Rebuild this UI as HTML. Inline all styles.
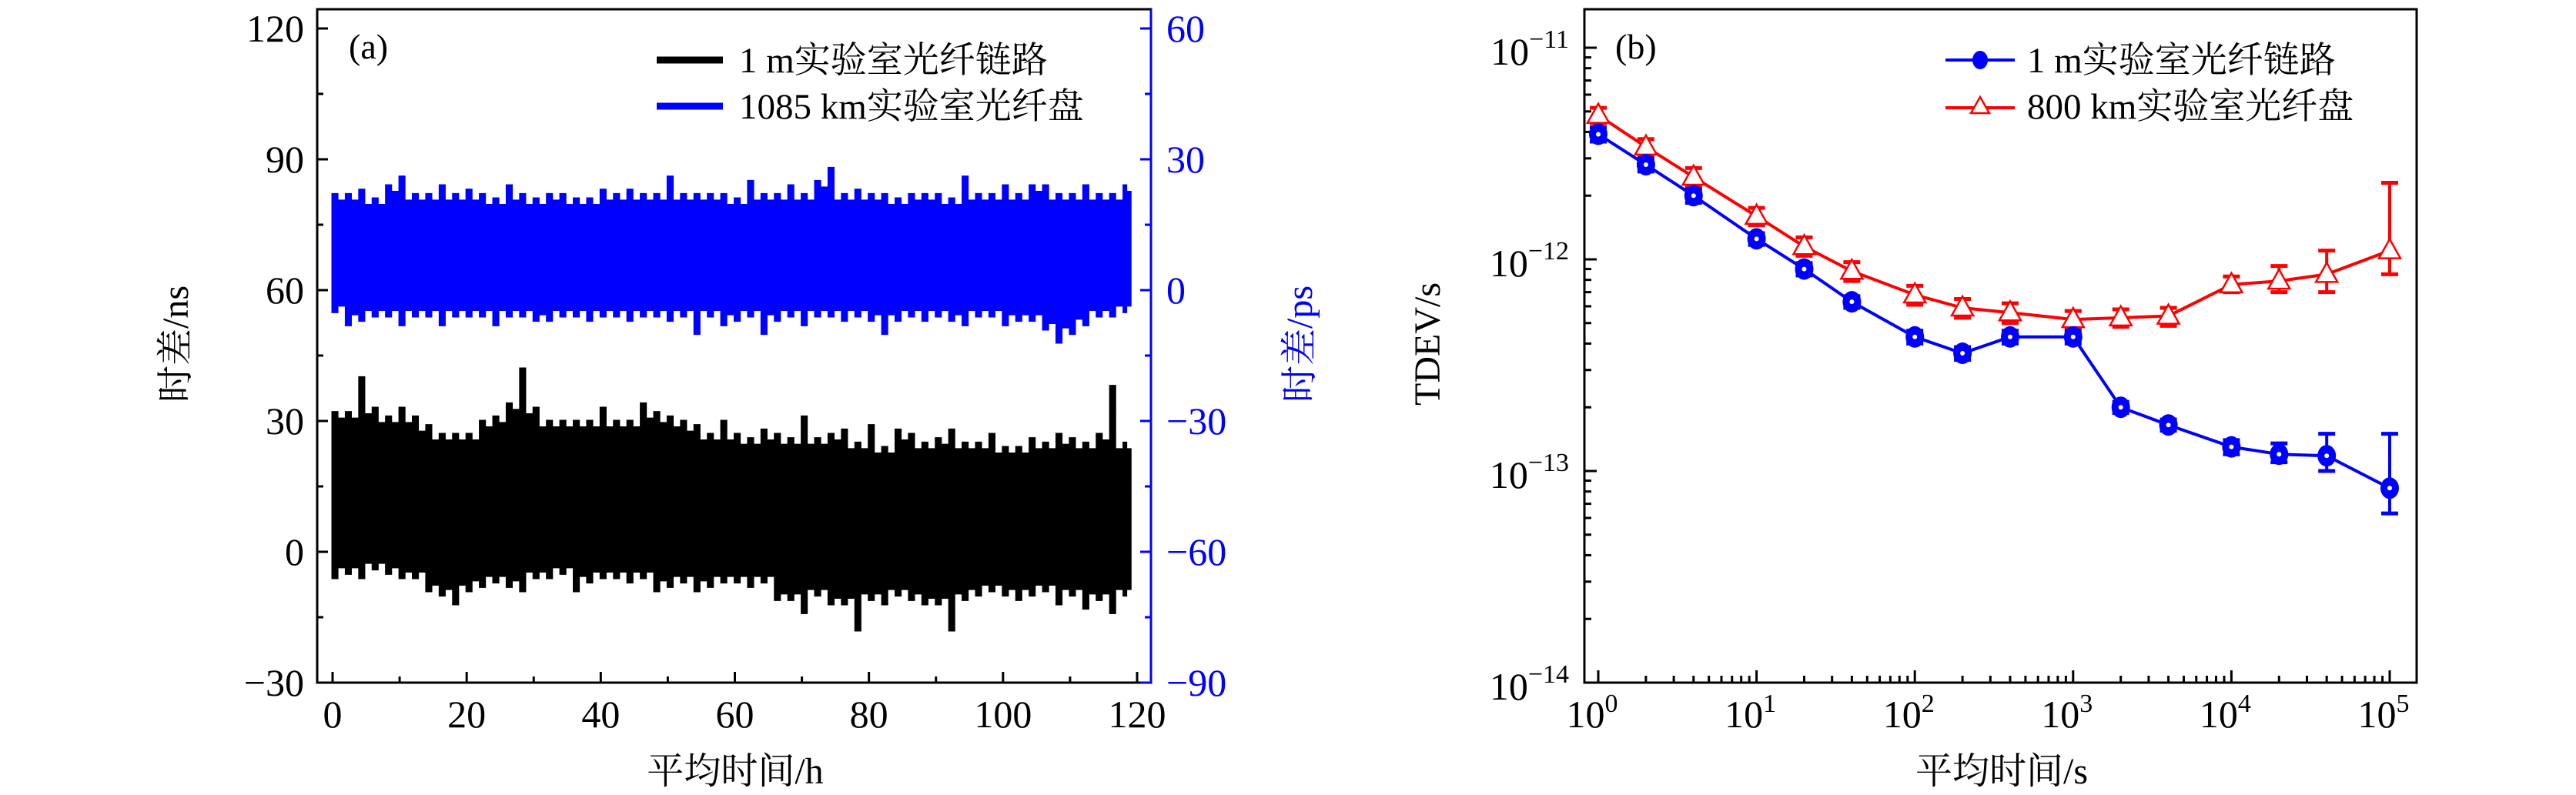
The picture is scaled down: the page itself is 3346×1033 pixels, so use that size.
<!DOCTYPE html>
<html><head><meta charset="utf-8"><style>
html,body{margin:0;padding:0;background:#fff;}
svg{display:block;font-family:"Liberation Serif","Noto Serif CJK SC",serif;}
</style></head><body>
<svg id="chart" width="3346" height="1033" viewBox="0 0 3346 1033" xmlns="http://www.w3.org/2000/svg"></svg>
<script>
// ---- Panel (a) data: envelope of time-difference traces, sampled every 2 h ----
const aHours = [0,2,4,6,8,10,12,14,16,18,20,22,24,26,28,30,32,34,36,38,40,42,44,46,48,50,52,54,56,58,60,62,64,66,68,70,72,74,76,78,80,82,84,86,88,90,92,94,96,98,100,102,104,106,108,110,112,114,116,118];
const blackUpperNs = [32,32,40,33,31,33,31,29,27,27,27,30,31,34,42,33,30,30,30,30,33,30,30,34,32,31,30,29,27,30,27,26,28,27,26,31,26,27,28,25,29,24,28,27,25,26,28,25,25,27,24,24,26,25,27,26,25,27,38,25];
const blackLowerNs = [-6,-5,-6,-4,-5,-6,-6,-9,-10,-12,-9,-8,-7,-8,-9,-6,-6,-5,-9,-7,-6,-6,-7,-6,-9,-8,-7,-9,-8,-7,-7,-8,-7,-11,-11,-14,-10,-12,-12,-18,-11,-12,-10,-11,-12,-12,-18,-11,-10,-9,-10,-11,-10,-9,-12,-10,-13,-11,-14,-10];
const blueUpperPs = [22,22,23,21,24,26,22,22,24,22,23,22,21,24,22,21,22,22,21,21,23,22,23,22,22,26,22,22,22,22,21,25,22,22,24,22,25,28,22,23,22,22,21,22,22,22,21,26,22,22,24,22,24,24,22,22,24,22,22,24];
const blueLowerPs = [-5,-8,-7,-6,-6,-8,-6,-6,-8,-6,-6,-6,-8,-6,-6,-7,-7,-6,-6,-7,-6,-6,-7,-6,-6,-7,-6,-10,-6,-8,-7,-6,-10,-7,-6,-8,-6,-6,-7,-6,-7,-10,-7,-6,-7,-6,-7,-8,-6,-6,-8,-7,-7,-9,-12,-10,-8,-6,-6,-5];
const aXTicks = [0,20,40,60,80,100,120];
const aYTicksLeft = [-30,0,30,60,90,120];
const aYTicksRight = [-90,-60,-30,0,30,60];

// ---- Panel (b) data: TDEV ----
const tau = [1,2,4,10,20,40,100,200,400,1000,2000,4000,1e4,2e4,4e4,1e5];
const tdevBlue = [3.9e-12,2.8e-12,2.0e-12,1.25e-12,9.0e-13,6.3e-13,4.3e-13,3.6e-13,4.3e-13,4.3e-13,2.0e-13,1.65e-13,1.3e-13,1.2e-13,1.18e-13,8.3e-14];
const blueErrLo = [3.6e-12,2.6e-12,1.85e-12,1.17e-12,8.4e-13,5.9e-13,4.0e-13,3.35e-13,4.0e-13,4.0e-13,1.88e-13,1.55e-13,1.2e-13,1.1e-13,1.0e-13,6.3e-14];
const blueErrHi = [4.2e-12,3.0e-12,2.15e-12,1.33e-12,9.6e-13,6.7e-13,4.6e-13,3.85e-13,4.6e-13,4.6e-13,2.12e-13,1.75e-13,1.4e-13,1.35e-13,1.5e-13,1.5e-13];
const tdevRed = [4.8e-12,3.4e-12,2.45e-12,1.6e-12,1.15e-12,8.8e-13,6.8e-13,5.9e-13,5.6e-13,5.2e-13,5.3e-13,5.4e-13,7.6e-13,7.9e-13,8.5e-13,1.1e-12];
const redErrLo = [4.4e-12,3.1e-12,2.2e-12,1.45e-12,1.04e-12,7.9e-13,6.1e-13,5.3e-13,5.0e-13,4.7e-13,4.8e-13,4.85e-13,7.0e-13,7.0e-13,7.0e-13,8.5e-13];
const redErrHi = [5.2e-12,3.7e-12,2.7e-12,1.75e-12,1.27e-12,9.7e-13,7.5e-13,6.5e-13,6.2e-13,5.7e-13,5.8e-13,5.9e-13,8.3e-13,9.3e-13,1.1e-12,2.3e-12];
const bXExps = [0,1,2,3,4,5];
const bYExps = [-14,-13,-12,-11];

const NS='http://www.w3.org/2000/svg';
const svg=document.getElementById('chart');
function mk(tag,attrs,parent){const e=document.createElementNS(NS,tag);for(const k in attrs)e.setAttribute(k,attrs[k]);(parent||svg).appendChild(e);return e;}

// ===== Panel a =====
const A={l:412,r:1495,t:12,b:887};
const ax=h=>432+(h-0)*(1477-432)/120;
const ayL=v=>717-v*170/30;
const ayR=v=>377-v*170/30;
const ga=mk('g',{});


function band(upper,lower,yf,color,name){
  let top=[],bot=[];
  const n=aHours.length;
  for(let i=0;i<n;i++){
    const h0=aHours[i], h1=(i+1<n?aHours[i+1]:119);
    const hm=h0+(h1-h0)*0.35;
    const nu=(i+1<n?upper[i+1]:upper[i]), nl=(i+1<n?lower[i+1]:lower[i]);
    const bu=Math.min(upper[i],nu)-1.5, bl=Math.max(lower[i],nl)+1.5;
    top.push(ax(h0)+','+yf(upper[i]),ax(hm)+','+yf(upper[i]),ax(hm)+','+yf(bu),ax(h1)+','+yf(bu));
    bot.push(ax(h0)+','+yf(lower[i]),ax(hm)+','+yf(lower[i]),ax(hm)+','+yf(bl),ax(h1)+','+yf(bl));
  }
  const pts=top.concat(bot.reverse());
  const p=mk('polygon',{points:pts.join(' '),fill:color,stroke:color,'stroke-width':3,'stroke-linejoin':'miter'},ga);
  
  
}
band(blueUpperPs,blueLowerPs,ayR,'#0000ff','series-1085km-spool');
band(blackUpperNs,blackLowerNs,ayL,'#000000','series-1m-link');
mk('rect',{x:A.l,y:A.t,width:A.r-A.l,height:A.b-A.t,fill:'none',stroke:'#000','stroke-width':3},ga);
mk('line',{x1:A.r,y1:A.t,x2:A.r,y2:A.b,stroke:'#0000ff','stroke-width':3},ga);
for(let h=0;h<=120;h+=10){const x=ax(h);mk('line',{x1:x,y1:A.b,x2:x,y2:A.b-(h%20===0?14:8),stroke:'#000','stroke-width':3},ga);}
aXTicks.forEach(v=>{const t=mk('text',{x:ax(v),y:945,'font-size':50,'text-anchor':'middle'},ga);t.textContent=v;});
for(let v=-30;v<=120;v+=15){const y=ayL(v);mk('line',{x1:A.l,y1:y,x2:A.l+(v%30===0?14:8),y2:y,stroke:'#000','stroke-width':3},ga);}
aYTicksLeft.forEach(v=>{const t=mk('text',{x:395,y:ayL(v)+17,'font-size':50,'text-anchor':'end'},ga);t.textContent=(v<0?'\u2212':'')+Math.abs(v);});
for(let v=-90;v<=60;v+=15){const y=ayR(v);mk('line',{x1:A.r,y1:y,x2:A.r-(v%30===0?14:8),y2:y,stroke:'#0000ff','stroke-width':3},ga);}
aYTicksRight.forEach(v=>{const t=mk('text',{x:1515,y:ayR(v)+17,'font-size':50,'fill':'#0000ff'},ga);t.textContent=(v<0?'\u2212':'')+Math.abs(v);});
let t=mk('text',{x:955,y:1018,'font-size':48,'text-anchor':'middle'},ga);t.textContent='平均时间/h';

t=mk('text',{x:0,y:0,'font-size':48,'text-anchor':'middle',transform:'translate(244,447) rotate(-90)'},ga);t.textContent='时差/ns';

t=mk('text',{x:0,y:0,'font-size':48,'text-anchor':'middle','fill':'#0000ff',transform:'translate(1704,447) rotate(-90)'},ga);t.textContent='时差/ps';

t=mk('text',{x:453,y:76,'font-size':46},ga);t.textContent='(a)';

mk('line',{x1:853,y1:78,x2:939,y2:78,stroke:'#000','stroke-width':9},ga);
t=mk('text',{x:960,y:94,'font-size':47},ga);t.textContent='1 m实验室光纤链路';

mk('line',{x1:853,y1:138,x2:939,y2:138,stroke:'#0000ff','stroke-width':9},ga);
t=mk('text',{x:960,y:154,'font-size':47},ga);t.textContent='1085 km实验室光纤盘';


// ===== Panel b =====
const B={l:2058,r:3139,t:12,b:887};
const bx=v=>2076+Math.log10(v)*205.6;
const by=v=>887-(Math.log10(v)+14)*275;
const gb=mk('g',{});


mk('rect',{x:B.l,y:B.t,width:B.r-B.l,height:B.b-B.t,fill:'none',stroke:'#000','stroke-width':3},gb);
for(let e=0;e<=5;e++){for(let m=1;m<10;m++){const v=m*Math.pow(10,e);if(e===5&&m>1)break;const x=bx(v);if(x>B.r)continue;mk('line',{x1:x,y1:B.b,x2:x,y2:B.b-(m===1?16:9),stroke:'#000','stroke-width':3},gb);}}
bXExps.forEach(e=>{const tt=mk('text',{x:bx(Math.pow(10,e))-8,y:945,'font-size':50,'text-anchor':'middle'},gb);tt.textContent='10';const s=mk('tspan',{'font-size':34,dy:-20},tt);s.textContent=e;});
for(let e=-14;e<=-11;e++){for(let m=1;m<10;m++){const v=m*Math.pow(10,e);const y=by(v);if(y<B.t)continue;mk('line',{x1:B.l,y1:y,x2:B.l+(m===1?16:9),y2:y,stroke:'#000','stroke-width':3},gb);}}
bYExps.forEach(e=>{const tt=mk('text',{x:2038,y:by(Math.pow(10,e))+22,'font-size':50,'text-anchor':'end'},gb);tt.textContent='10';const s=mk('tspan',{'font-size':34,dy:-22},tt);s.textContent='\u2212'+Math.abs(e);});
t=mk('text',{x:2600,y:1018,'font-size':48,'text-anchor':'middle'},gb);t.textContent='平均时间/s';

t=mk('text',{x:0,y:0,'font-size':48,'text-anchor':'middle',transform:'translate(1870,447) rotate(-90)'},gb);t.textContent='TDEV/s';

t=mk('text',{x:2098,y:76,'font-size':46},gb);t.textContent='(b)';

function series(vals,lo,hi,color,marker,name){
  const g=mk('g',{},gb);
  
  
  lo.forEach((l,i)=>{const x=bx(tau[i]);mk('line',{x1:x,y1:by(l),x2:x,y2:by(hi[i]),stroke:color,'stroke-width':4},g);
    mk('line',{x1:x-11,y1:by(l),x2:x+11,y2:by(l),stroke:color,'stroke-width':5},g);
    mk('line',{x1:x-11,y1:by(hi[i]),x2:x+11,y2:by(hi[i]),stroke:color,'stroke-width':5},g);});
  mk('polyline',{points:vals.map((v,i)=>bx(tau[i])+','+by(v)).join(' '),fill:'none',stroke:color,'stroke-width':4},g);
  vals.forEach((v,i)=>{const x=bx(tau[i]),y=by(v);let m;
    if(marker==='circle'){m=mk('ellipse',{cx:x,cy:y,rx:12,ry:14,fill:color},g);mk('circle',{cx:x,cy:y,r:3,fill:'#fff'},g);}
    else{m=mk('polygon',{points:`${x},${y-15} ${x-14},${y+10} ${x+14},${y+10}`,fill:'#fff',stroke:color,'stroke-width':2.5},g);}
    });
}
series(tdevRed,redErrLo,redErrHi,'#ff0000','triangle','series-800km-spool');
series(tdevBlue,blueErrLo,blueErrHi,'#0000ff','circle','series-1m-link');
mk('line',{x1:2527,y1:78,x2:2617,y2:78,stroke:'#0000ff','stroke-width':4},gb);
mk('ellipse',{cx:2572,cy:78,rx:10,ry:12,fill:'#0000ff'},gb);
t=mk('text',{x:2633,y:94,'font-size':47},gb);t.textContent='1 m实验室光纤链路';

mk('line',{x1:2527,y1:140,x2:2617,y2:140,stroke:'#ff0000','stroke-width':4},gb);
mk('polygon',{points:'2572,126 2560,147 2584,147',fill:'#fff',stroke:'#ff0000','stroke-width':2.5},gb);
t=mk('text',{x:2633,y:154,'font-size':47},gb);t.textContent='800 km实验室光纤盘';

</script>
</body></html>
